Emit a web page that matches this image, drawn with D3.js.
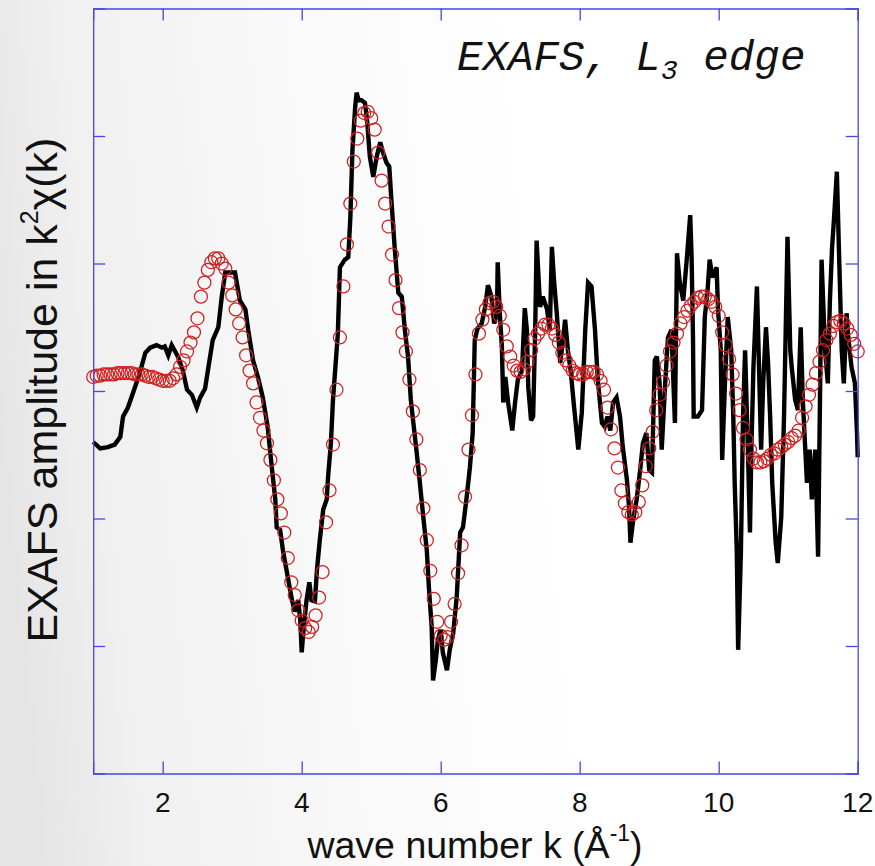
<!DOCTYPE html>
<html><head><meta charset="utf-8">
<script src="https://cdn.jsdelivr.net/npm/d3@7"></script>
<style>html,body{margin:0;padding:0;background:#fff;} svg{display:block}</style>
</head><body><svg id="c" width="875" height="866"></svg>
<script>
// ---------- data ----------
const xTicks = [2, 4, 6, 8, 10, 12];
const xTickLabels = ["2", "4", "6", "8", "10", "12"];
const yTicks = [-2, -1, 0, 1, 2];

// measured EXAFS data (black line)
const dataK = [1.00,1.10,1.21,1.31,1.39,1.43,1.50,1.57,1.67,1.75,
1.82,1.91,1.99,2.03,2.08,2.13,2.18,2.22,2.29,2.35,
2.42,2.49,2.54,2.61,2.65,2.72,2.80,2.85,2.90,2.97,
3.04,3.11,3.19,3.23,3.30,3.37,3.44,3.51,3.57,3.62,
3.64,3.69,3.73,3.80,3.86,3.90,3.95,3.98,4.00,4.03,
4.07,4.11,4.14,4.19,4.22,4.26,4.31,4.36,4.38,4.42,
4.45,4.52,4.55,4.62,4.67,4.70,4.73,4.77,4.79,4.82,
4.86,4.91,4.94,4.98,5.03,5.08,5.13,5.17,5.22,5.26,
5.29,5.34,5.39,5.44,5.49,5.53,5.57,5.65,5.70,5.75,
5.80,5.83,5.87,5.89,5.93,5.96,6.00,6.03,6.09,6.13,
6.18,6.23,6.28,6.32,6.37,6.42,6.46,6.49,6.53,6.59,
6.64,6.68,6.73,6.77,6.81,6.82,6.85,6.88,6.90,6.93,
6.97,7.03,7.07,7.11,7.17,7.21,7.24,7.26,7.30,7.33,
7.36,7.38,7.43,7.47,7.53,7.57,7.60,7.63,7.67,7.72,
7.76,7.79,7.83,7.87,7.92,7.98,8.03,8.08,8.12,8.17,
8.22,8.26,8.32,8.36,8.40,8.44,8.48,8.53,8.58,8.62,
8.68,8.71,8.73,8.77,8.82,8.87,8.91,8.96,9.00,9.04,
9.08,9.11,9.15,9.18,9.23,9.27,9.32,9.34,9.37,9.40,
9.44,9.49,9.54,9.59,9.61,9.63,9.64,9.70,9.76,9.80,
9.84,9.87,9.91,9.97,9.99,10.03,10.05,10.09,10.13,10.18,
10.21,10.23,10.26,10.28,10.32,10.35,10.38,10.42,10.45,10.47,
10.50,10.55,10.58,10.61,10.64,10.68,10.71,10.74,10.77,10.82,
10.85,10.90,10.94,10.99,11.03,11.05,11.10,11.14,11.18,11.21,
11.27,11.31,11.34,11.39,11.43,11.46,11.48,11.53,11.57,11.60,
11.63,11.66,11.70,11.73,11.77,11.80,11.84,11.86,11.91,11.96,
11.99,12.00];
const dataV = [-0.40,-0.45,-0.44,-0.42,-0.36,-0.20,-0.13,-0.02,0.14,0.30,
0.34,0.36,0.34,0.35,0.28,0.36,0.31,0.27,0.16,0.01,
-0.03,-0.13,-0.05,0.02,0.16,0.40,0.50,0.74,0.93,0.93,
0.93,0.71,0.64,0.48,0.24,0.11,-0.05,-0.28,-0.60,-0.85,
-1.07,-1.09,-1.25,-1.46,-1.64,-1.73,-1.64,-1.80,-2.05,-1.85,
-1.64,-1.50,-1.64,-1.65,-1.40,-1.17,-0.93,-0.85,-0.67,-0.41,
-0.07,0.45,0.97,1.03,1.05,1.36,1.89,2.23,2.34,2.28,
2.28,2.26,2.13,1.84,1.68,1.84,1.95,1.87,1.79,1.76,
1.50,1.11,0.77,0.74,0.45,0.27,-0.07,-0.46,-0.72,-0.99,
-1.25,-1.54,-1.85,-2.27,-2.11,-1.95,-1.87,-2.05,-2.19,-2.03,
-1.90,-1.62,-1.11,-1.07,-0.85,-0.60,-0.33,0.40,0.49,0.53,
0.66,0.83,0.74,0.53,0.61,1.01,0.61,0.35,-0.09,0.11,
-0.09,-0.31,-0.09,0.09,0.16,0.65,0.48,0.03,-0.23,-0.20,
0.48,1.18,0.66,0.74,0.64,0.48,1.13,0.87,0.61,0.22,
0.40,0.56,0.32,0.16,-0.13,-0.46,-0.17,0.48,0.85,0.82,
0.48,0.09,-0.25,-0.28,-0.20,-0.31,-0.09,-0.05,-0.20,-0.44,
-0.70,-0.91,-1.19,-1.01,-0.85,-0.62,-0.41,-0.33,-0.62,-0.64,
0.24,0.27,0.06,-0.46,0.06,0.42,0.48,0.19,-0.25,1.08,
0.85,0.71,1.03,1.38,1.05,0.42,-0.20,-0.20,-0.15,0.58,
0.79,1.03,0.89,0.97,0.64,0.32,-0.54,0.06,0.58,0.32,
-0.20,-0.72,-1.25,-2.03,-1.25,-0.20,0.32,-0.46,-1.11,-0.46,
0.19,0.82,0.19,-0.46,0.06,0.50,0.22,-0.20,-0.72,-1.19,
-1.35,-0.99,-0.20,1.21,0.32,0.19,-0.07,-0.15,0.50,-0.07,
-0.72,-0.46,-0.85,-0.46,-1.30,0.06,1.03,0.32,0.06,0.71,
1.11,1.36,1.72,1.11,0.32,0.06,0.61,0.45,0.19,0.06,
-0.33,-0.52];

// fitted curve (red open circles), one circle every 0.05 in k
const fitK = [1.00,1.05,1.10,1.15,1.20,1.25,1.30,1.35,1.40,1.45,1.50,1.55,1.60,1.65,1.70,1.75,1.80,1.85,1.90,1.95,
2.00,2.05,2.10,2.15,2.20,2.25,2.30,2.35,2.40,2.45,2.50,2.55,2.60,2.65,2.70,2.75,2.80,2.85,2.90,2.95,
3.00,3.05,3.10,3.15,3.20,3.25,3.30,3.35,3.40,3.45,3.50,3.55,3.60,3.65,3.70,3.75,3.80,3.85,3.90,3.95,
4.00,4.05,4.10,4.15,4.20,4.25,4.30,4.35,4.40,4.45,4.50,4.55,4.60,4.65,4.70,4.75,4.80,4.85,4.90,4.95,
5.00,5.05,5.10,5.15,5.20,5.25,5.30,5.35,5.40,5.45,5.50,5.55,5.60,5.65,5.70,5.75,5.80,5.85,5.90,5.95,
6.00,6.05,6.10,6.15,6.20,6.25,6.30,6.35,6.40,6.45,6.50,6.55,6.60,6.65,6.70,6.75,6.80,6.85,6.90,6.95,
7.00,7.05,7.10,7.15,7.20,7.25,7.30,7.35,7.40,7.45,7.50,7.55,7.60,7.65,7.70,7.75,7.80,7.85,7.90,7.95,
8.00,8.05,8.10,8.15,8.20,8.25,8.30,8.35,8.40,8.45,8.50,8.55,8.60,8.65,8.70,8.75,8.80,8.85,8.90,8.95,
9.00,9.05,9.10,9.15,9.20,9.25,9.30,9.35,9.40,9.45,9.50,9.55,9.60,9.65,9.70,9.75,9.80,9.85,9.90,9.95,
10.00,10.05,10.10,10.15,10.20,10.25,10.30,10.35,10.40,10.45,10.50,10.55,10.60,10.65,10.70,10.75,10.80,10.85,10.90,10.95,
11.00,11.05,11.10,11.15,11.20,11.25,11.30,11.35,11.40,11.45,11.50,11.55,11.60,11.65,11.70,11.75,11.80,11.85,11.90,11.95,
12.00];
const fitV = [0.11,0.12,0.12,0.13,0.13,0.13,0.13,0.14,0.14,0.14,0.14,0.14,0.13,0.13,0.13,0.12,0.11,0.11,0.10,0.09,
0.08,0.08,0.08,0.10,0.13,0.19,0.24,0.31,0.38,0.46,0.57,0.74,0.85,0.95,1.01,1.04,1.04,1.00,0.96,0.85,
0.75,0.64,0.53,0.42,0.28,0.16,0.06,-0.09,-0.21,-0.31,-0.41,-0.54,-0.70,-0.85,-0.96,-1.11,-1.31,-1.50,-1.60,-1.72,
-1.80,-1.86,-1.89,-1.85,-1.76,-1.62,-1.42,-1.03,-0.78,-0.42,0.01,0.42,0.82,1.15,1.47,1.80,1.98,2.12,2.18,2.19,
2.14,2.05,1.87,1.65,1.47,1.29,1.07,0.87,0.65,0.46,0.31,0.09,-0.16,-0.38,-0.62,-0.92,-1.17,-1.41,-1.63,-1.81,
-1.92,-1.95,-1.93,-1.81,-1.67,-1.43,-1.21,-0.83,-0.46,-0.19,0.13,0.45,0.56,0.64,0.69,0.70,0.66,0.59,0.48,0.35,
0.27,0.20,0.16,0.15,0.17,0.23,0.32,0.41,0.45,0.49,0.52,0.52,0.49,0.44,0.38,0.30,0.24,0.20,0.16,0.14,
0.13,0.13,0.15,0.15,0.15,0.13,0.08,0.01,-0.13,-0.30,-0.45,-0.60,-0.78,-0.88,-0.95,-0.97,-0.95,-0.87,-0.74,-0.59,
-0.45,-0.32,-0.15,-0.03,0.07,0.20,0.31,0.38,0.45,0.53,0.58,0.63,0.67,0.70,0.73,0.74,0.74,0.72,0.70,0.66,
0.59,0.46,0.36,0.25,0.13,-0.02,-0.15,-0.29,-0.38,-0.46,-0.53,-0.56,-0.56,-0.55,-0.53,-0.50,-0.49,-0.46,-0.44,-0.42,
-0.40,-0.37,-0.35,-0.31,-0.21,-0.12,-0.03,0.05,0.14,0.23,0.32,0.40,0.45,0.51,0.54,0.55,0.53,0.49,0.44,0.37,
0.31];

// ---------- drawing ----------
const W = 875, H = 866;
const M = {left: 93.2, right: 857.7, top: 8.5, bottom: 773.5};
const svg = d3.select("#c");

const defs = svg.append("defs");
const g0 = defs.append("linearGradient").attr("id", "bg")
  .attr("x1", "0").attr("y1", "0.55").attr("x2", "1").attr("y2", "0.45");
g0.append("stop").attr("offset", "0").attr("stop-color", "#e5e5e5");
g0.append("stop").attr("offset", "0.12").attr("stop-color", "#f0f0f0");
g0.append("stop").attr("offset", "0.40").attr("stop-color", "#fafafa");
g0.append("stop").attr("offset", "0.65").attr("stop-color", "#ffffff");
svg.append("rect").attr("width", W).attr("height", H).attr("fill", "url(#bg)");

const x = d3.scaleLinear().domain([1, 12]).range([M.left, M.right]);
const y = d3.scaleLinear().domain([-3, 3]).range([M.bottom, M.top]);

const axisColor = "#4646ea";
const tickLen = 12;

// data line
const dataPts = dataK.map((k, i) => [k, dataV[i]]);
svg.append("path")
  .datum(dataPts)
  .attr("fill", "none")
  .attr("stroke", "#000")
  .attr("stroke-width", 4.4)
  .attr("stroke-linejoin", "miter")
  .attr("stroke-miterlimit", 3)
  .attr("d", d3.line().x(d => x(d[0])).y(d => y(d[1])));

// fit circles
const fitPts = fitK.map((k, i) => [k, fitV[i]]);
svg.append("g").selectAll("circle").data(fitPts).join("circle")
  .attr("cx", d => x(d[0]))
  .attr("cy", d => y(d[1]))
  .attr("r", 6.5)
  .attr("fill", "none")
  .attr("stroke", "#d02020")
  .attr("stroke-width", 1.25);

// axes frame (box) with inward ticks on all sides
const axG = svg.append("g");
const xb = d3.axisBottom(x).tickValues(xTicks).tickSize(-tickLen).tickFormat("");
const xt = d3.axisTop(x).tickValues(xTicks).tickSize(-tickLen).tickFormat("");
const yl = d3.axisLeft(y).tickValues(yTicks).tickSize(-tickLen).tickFormat("");
const yr = d3.axisRight(y).tickValues(yTicks).tickSize(-tickLen).tickFormat("");
axG.append("g").attr("transform", `translate(0,${M.bottom})`).call(xb);
axG.append("g").attr("transform", `translate(0,${M.top})`).call(xt);
axG.append("g").attr("transform", `translate(${M.left},0)`).call(yl);
axG.append("g").attr("transform", `translate(${M.right},0)`).call(yr);
axG.selectAll("path.domain").attr("stroke", axisColor).attr("stroke-width", 1.3);
axG.selectAll(".tick line").attr("stroke", axisColor).attr("stroke-width", 1.3);

// x tick labels
svg.append("g").selectAll("text").data(xTicks).join("text")
  .attr("x", d => x(d))
  .attr("y", 812)
  .attr("text-anchor", "middle")
  .attr("font-family", "'Liberation Sans', Arial, sans-serif")
  .attr("font-size", 28)
  .attr("fill", "#111")
  .text((d, i) => xTickLabels[i]);

// x title
const xt2 = svg.append("text")
  .attr("x", 475).attr("y", 858)
  .attr("text-anchor", "middle")
  .attr("font-family", "'Liberation Sans', Arial, sans-serif")
  .attr("font-size", 37.5)
  .attr("fill", "#111")
  .style("white-space", "pre");
xt2.append("tspan").text("wave number k (\u00C5");
xt2.append("tspan").attr("font-size", 23).attr("dy", -17).text("-1");
xt2.append("tspan").attr("dy", 17).text(")");

// y label
const yt = svg.append("text")
  .attr("transform", "translate(57,390) rotate(-90)")
  .attr("text-anchor", "middle")
  .attr("font-family", "'Liberation Sans', Arial, sans-serif")
  .attr("font-size", 43)
  .attr("fill", "#111")
  .style("white-space", "pre");
yt.append("tspan").text("EXAFS amplitude in k");
yt.append("tspan").attr("font-size", 25).attr("dy", -19).text("2");
yt.append("tspan").attr("dy", 19).text("\u03C7(k)");

// chart annotation
const tt = svg.append("text")
  .attr("x", 457).attr("y", 70)
  .attr("font-family", "'Liberation Mono', 'Courier New', monospace")
  .attr("font-style", "italic")
  .attr("font-size", 42.5)
  .attr("fill", "#111")
  .style("white-space", "pre");
tt.append("tspan").text("EXAFS, L");
tt.append("tspan").attr("font-size", 28).attr("dy", 9).text("3");
tt.append("tspan").attr("dy", -9).text(" edge");
</script>
</body></html>
